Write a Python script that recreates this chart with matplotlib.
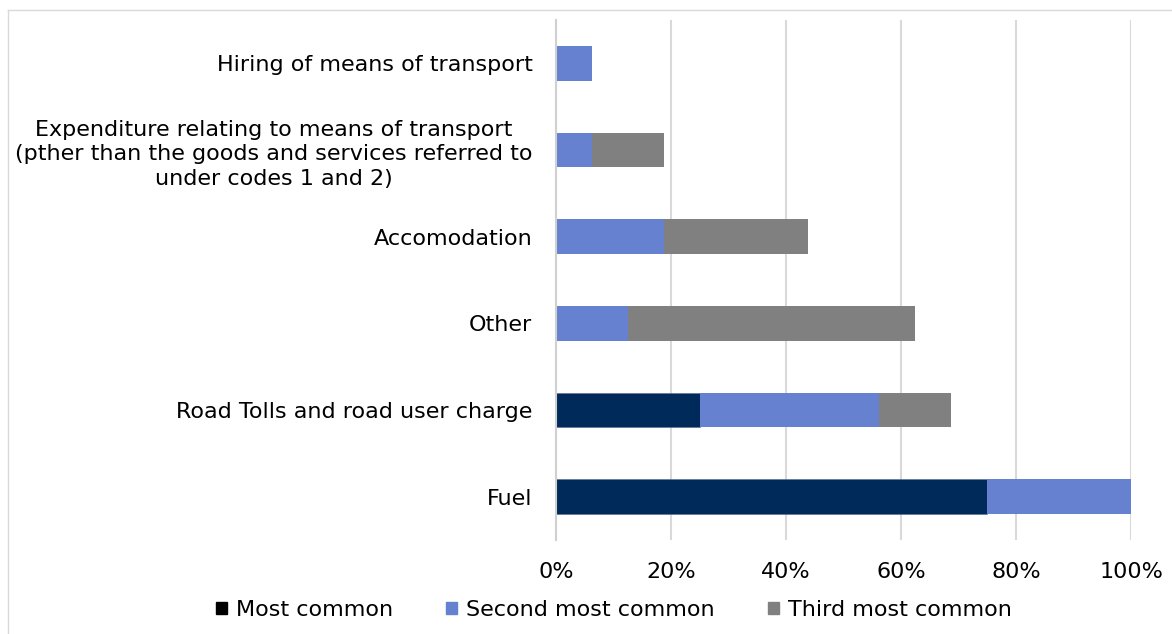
import numpy as np
import matplotlib.pyplot as plt
from matplotlib.patches import Patch
from matplotlib.lines import Line2D

categories = ["Hiring of means of transport",
              "Expenditure relating to means of transport\n(pther than the goods and services referred to\nunder codes 1 and 2)",
              "Accomodation",
              "Other",
              "Road Tolls and road user charge",
              "Fuel"]
most_common = [0, 0, 0, 0, 25, 75]
second_most = [6.25, 6.25, 18.75, 12.5, 31.25, 25]
third_most = [0, 12.5, 25, 50, 12.5, 0]
series_labels = ["Most common", "Second most common", "Third most common"]
colors = ["#002a5a", "#6581d0", "#808080"]

plt.rcParams['font.family'] = ['DejaVu Sans']

fig = plt.figure(figsize=(11.72, 6.34), dpi=100)
ax = fig.add_axes([556 / 1172, 1 - 540 / 634, (1131 - 556) / 1172, 520 / 634])

y = np.arange(len(categories))
m = np.array(most_common)
s = np.array(second_most)
t = np.array(third_most)
bar_h = 0.4
ax.barh(y, m, bar_h, color=colors[0], edgecolor="#5a6f90", linewidth=0.4)
ax.barh(y, s, bar_h, left=m, color=colors[1])
ax.barh(y, t, bar_h, left=m + s, color=colors[2])

ax.set_ylim(len(categories) - 0.5, -0.5)
ax.set_xlim(0, 100)
ax.set_xticks(np.arange(0, 101, 20))
ax.set_xticklabels([f"{v}%" for v in range(0, 101, 20)])
ax.set_yticks(y)
ax.set_yticklabels(categories, multialignment="center", linespacing=1.3)
ax.tick_params(axis="both", labelsize=16, length=0, colors="#000000")
ax.tick_params(axis="y", pad=17)
ax.tick_params(axis="x", pad=16)
ax.grid(axis="x", color="#d9d9d9", linewidth=1.5)
ax.set_axisbelow(True)
for sp in ["top", "right", "bottom"]:
    ax.spines[sp].set_visible(False)
ax.spines["left"].set_color("#d0d0d0")
ax.spines["left"].set_linewidth(1.5)

handles = [Patch(color="#000000"), Patch(color=colors[1]), Patch(color=colors[2])]
fig.legend(handles, series_labels, loc="center", bbox_to_anchor=(0.5 + 28 / 1172, 1 - 610 / 634),
           ncol=3, frameon=False, fontsize=16, handlelength=0.5, handleheight=0.5,
           handletextpad=0.4, columnspacing=2.4)

# outer chart border (top and left visible)
fig.add_artist(Line2D([8 / 1172, 1.0], [1 - 10 / 634, 1 - 10 / 634], transform=fig.transFigure,
                      color="#d9d9d9", linewidth=1))
fig.add_artist(Line2D([8 / 1172, 8 / 1172], [0.0, 1 - 10 / 634], transform=fig.transFigure,
                      color="#d9d9d9", linewidth=1))

fig.savefig("out.png", dpi=100)
